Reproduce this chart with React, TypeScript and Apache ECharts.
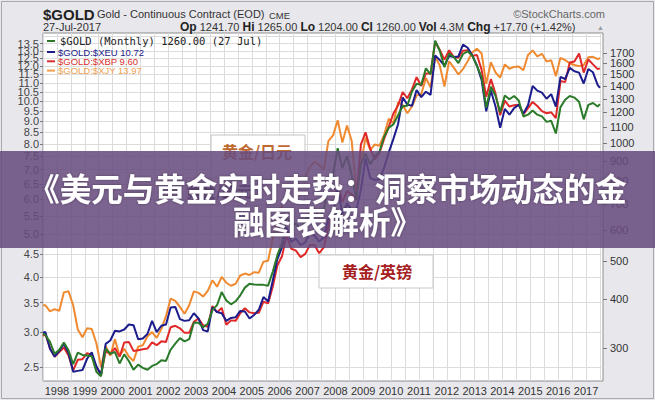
import React, { useEffect, useRef } from 'react';
import * as echarts from 'echarts';

// ---- data (bi-monthly samples) ----
const dateLabels: string[] = ['1997-07', '1997-08', '1997-10', '1997-12'];
for (let y = 1998; y <= 2016; y++) {
  for (const m of [2, 4, 6, 8, 10, 12]) dateLabels.push(`${y}-${String(m).padStart(2, '0')}`);
}
dateLabels.push('2017-02', '2017-04', '2017-06', '2017-07');

// $GOLD (USD) – right axis
const goldUsd = [
  326, 324, 311, 290,
  297, 310, 296, 273, 292, 288,
  287, 286, 261, 254, 299, 290,
  293, 274, 289, 278, 264, 272,
  267, 264, 270, 273, 279, 278,
  297, 308, 318, 312, 316, 348,
  348, 339, 346, 375, 386, 417,
  397, 388, 395, 409, 428, 438,
  436, 435, 435, 433, 470, 518,
  556, 654, 614, 624, 604, 632,
  665, 679, 650, 673, 789, 834,
  972, 865, 928, 833, 717, 884,
  942, 884, 928, 952, 1040, 1096,
  1118, 1180, 1244, 1248, 1357, 1421,
  1411, 1556, 1500, 1829, 1722, 1566,
  1697, 1663, 1604, 1692, 1719, 1675,
  1578, 1476, 1234, 1396, 1323, 1202,
  1326, 1296, 1322, 1287, 1171, 1184,
  1213, 1184, 1172, 1135, 1142, 1060,
  1238, 1292, 1321, 1309, 1277, 1152,
  1254, 1268, 1242, 1260,
];

// $GOLD:$XEU – left axis
const goldXeu = [
  2.99, 3.0, 2.75, 2.64,
  2.72, 2.82, 2.69, 2.44, 2.45, 2.46,
  2.61, 2.7, 2.51, 2.4, 2.82, 2.87,
  3.02, 3.01, 3.04, 3.12, 3.11, 2.89,
  2.9, 2.97, 3.18, 3.0, 3.1, 3.12,
  3.41, 3.42, 3.21, 3.18, 3.19, 3.31,
  3.22, 3.03, 3.01, 3.41, 3.33, 3.31,
  3.18, 3.23, 3.24, 3.35, 3.34, 3.22,
  3.28, 3.37, 3.6, 3.52, 3.92, 4.39,
  4.67, 5.19, 4.8, 4.88, 4.72, 4.79,
  5.04, 4.96, 4.81, 4.91, 5.44, 5.71,
  6.39, 5.54, 5.87, 5.67, 5.65, 6.31,
  7.42, 6.7, 6.63, 6.66, 7.07, 7.66,
  8.22, 8.87, 10.2, 9.83, 9.76, 10.6,
  10.22, 10.51, 10.34, 12.7, 12.39, 12.05,
  12.66, 12.6, 12.63, 13.43, 13.22, 12.69,
  12.05, 11.18, 9.49, 10.58, 9.73, 8.71,
  9.61, 9.32, 9.65, 9.82, 9.37, 9.79,
  10.83, 10.57, 10.46, 10.13, 10.38, 9.72,
  11.36, 11.23, 11.9, 11.69, 11.61, 10.97,
  11.83, 11.63, 10.89, 10.72,
];

// $GOLD:$XBP – plotted against right axis
const goldXbp = [
  322, 326, 300, 285,
  293, 301, 287, 263, 280, 281,
  291, 288, 268, 257, 294, 290,
  300, 285, 310, 311, 295, 296,
  298, 299, 310, 305, 312, 311,
  339, 342, 337, 328, 328, 350,
  357, 343, 340, 384, 370, 380,
  344, 353, 352, 368, 379, 370,
  368, 369, 394, 390, 430, 488,
  515, 582, 538, 532, 512, 522,
  550, 550, 524, 542, 615, 679,
  791, 708, 755, 741, 717, 994,
  1067, 968, 911, 946, 1027, 1103,
  1192, 1249, 1353, 1304, 1374, 1476,
  1402, 1509, 1509, 1818, 1733, 1637,
  1729, 1663, 1655, 1724, 1730, 1675,
  1682, 1543, 1315, 1459, 1340, 1180,
  1286, 1242, 1252, 1256, 1186, 1230,
  1276, 1246, 1209, 1194, 1201, 1160,
  1443, 1434, 1609, 1619, 1696, 1517,
  1638, 1592, 1548, 1555,
];

// $GOLD:$XJY – plotted against left axis
const goldXjy = [
  3.45, 3.45, 3.34, 3.38,
  3.35, 3.69, 3.71, 3.45, 3.04, 2.92,
  3.06, 3.05, 2.83, 2.5, 2.79, 2.65,
  2.89, 2.65, 2.75, 2.64, 2.58, 2.78,
  2.8, 2.93, 3.0, 2.91, 3.05, 3.26,
  3.57, 3.53, 3.42, 3.3, 3.45, 3.71,
  3.68, 3.61, 3.72, 3.93, 3.8, 4.0,
  3.88, 3.82, 3.86, 4.03, 4.07, 4.04,
  4.1, 4.09, 4.33, 4.35, 4.89, 5.48,
  5.78, 6.68, 6.27, 6.54, 6.33, 6.74,
  7.09, 7.3, 7.16, 7.0, 8.13, 8.37,
  9.06, 8.06, 8.81, 8.14, 6.3, 7.21,
  8.27, 7.76, 7.98, 7.93, 8.39, 9.13,
  8.92, 9.94, 9.81, 9.39, 9.73, 10.31,
  10.37, 11.29, 10.75, 12.62, 12.04, 10.8,
  12.32, 11.92, 11.5, 11.83, 12.32, 12.91,
  13.15, 12.83, 10.95, 12.26, 11.62, 11.31,
  12.12, 11.85, 11.96, 11.99, 11.75, 12.73,
  13.04, 12.63, 12.81, 12.31, 12.38, 11.4,
  12.54, 12.39, 12.19, 12.08, 12.01, 12.08,
  12.58, 12.61, 12.46, 12.53,
];

const yearLabels = [1998, 1999, 2000, 2001, 2002, 2003, 2004, 2005, 2006, 2007, 2008, 2009, 2010, 2011, 2012, 2013, 2014, 2015, 2016, 2017];
const leftTicks = [2.5, 3.0, 3.5, 4.0, 4.5, 5.0, 5.5, 6.0, 6.5, 7.0, 7.5, 8.0, 8.5, 9.0, 9.5, 10.0, 10.5, 11.0, 11.5, 12.0, 12.5, 13.0, 13.5, 14.0];
const rightTicks = [300, 400, 500, 600, 700, 800, 900, 1000, 1100, 1200, 1300, 1400, 1500, 1600, 1700, 1800];

const legendRows = [
  { text: '$GOLD:$XEU 10.72', color: '#1c1c8c' },
  { text: '$GOLD:$XBP 9.60', color: '#d83030' },
  { text: '$GOLD:$XJY 13.97', color: '#f0a050' },
];

const COLORS = { usd: '#2a7a2a', eur: '#1c1c8c', gbp: '#e02828', jpy: '#f08a30' };
const SANS = '"Liberation Sans", Arial, sans-serif';
const CJK = '"Noto Sans CJK SC", sans-serif';

const toYear = (s: string) => {
  const [y, m] = s.split('-').map(Number);
  return y + (m - 1) / 12;
};

const mkSeries = (name: string, values: number[], color: string, yAxisIndex: number) => ({
  type: 'line',
  name,
  yAxisIndex,
  data: values.map((v, i) => [toYear(dateLabels[i]), Math.log(v)]),
  showSymbol: false,
  symbol: 'none',
  silent: true,
  lineStyle: { color, width: 2 },
  itemStyle: { color },
});

const txt = (x: number, y: number, text: string, font: string, fill: string, align = 'left', z = 10, extra: any = {}) => ({
  type: 'text',
  z,
  style: { x, y, text, font, fill, align, verticalAlign: 'middle', textAlign: align, textVerticalAlign: 'middle', ...extra },
});

export default function App() {
  const ref = useRef<HTMLDivElement>(null);
  useEffect(() => {
    document.body.style.margin = '0';
    const chart = echarts.init(ref.current!, undefined, { renderer: 'svg', width: 655, height: 400 });
    const halfYears: number[] = [];
    yearLabels.forEach((y) => halfYears.push(y - 0.5, y));
    halfYears.push(2017.5);

    const graphics: any[] = [
      { type: 'rect', z: 1, shape: { x: 1.5, y: 1.5, width: 652, height: 397 }, style: { fill: 'none', stroke: '#a9a9ad', lineWidth: 1 } },
      // header
      txt(43, 14, '$GOLD', `bold 15px ${SANS}`, '#222'),
      txt(97, 14, 'Gold - Continuous Contract (EOD)', `11px ${SANS}`, '#333'),
      txt(269, 15, 'CME', `9.5px ${SANS}`, '#333'),
      txt(43, 27, '27-Jul-2017', `11px ${SANS}`, '#333'),
      {
        type: 'text', z: 10,
        style: {
          x: 180, y: 27, align: 'left', verticalAlign: 'middle', textAlign: 'left', textVerticalAlign: 'middle',
          text: '{b|Op} 1241.70 {b|Hi} 1265.00 {b|Lo} 1204.00 {b|Cl} 1260.00 {b|Vol} 4.3M {b|Chg} +17.70 (+1.42%)',
          font: `11px ${SANS}`, fill: '#333',
          rich: { b: { fontWeight: 'bold', fontSize: 12, fontFamily: SANS, fill: '#222' } },
        },
      },
      txt(604, 27, '▲', `7px ${SANS}`, '#999', 'right'),
      txt(605, 14, '©StockCharts.com', `11px ${SANS}`, '#666', 'right'),
      // legend
      { type: 'line', z: 10, shape: { x1: 47, y1: 41, x2: 55, y2: 41 }, style: { stroke: COLORS.usd, lineWidth: 2 } },
      txt(60, 41, '$GOLD (Monthly) 1260.00 (27 Jul)', `10.5px "DejaVu Sans Mono", monospace`, '#222'),
      ...legendRows.flatMap((r, i) => [
        { type: 'line', z: 10, shape: { x1: 47, y1: 52 + i * 9.3, x2: 55, y2: 52 + i * 9.3 }, style: { stroke: r.color, lineWidth: 2 } },
        txt(58, 52 + i * 9.3, r.text, `9.5px ${SANS}`, r.color),
      ]),
      // annotation boxes
      { type: 'rect', z: 20, shape: { x: 211, y: 135, width: 94, height: 70 }, style: { fill: 'rgba(255,255,255,0.93)', stroke: '#c4c4c4', lineWidth: 1 } },
      txt(257, 151, '黄金/日元', `bold 16px ${CJK}`, '#c06a32', 'center', 21),
      { type: 'rect', z: 20, shape: { x: 186, y: 178, width: 68, height: 24 }, style: { fill: 'rgba(255,255,255,0.9)', stroke: '#c4c4c4', lineWidth: 1 } },
      txt(219, 190, '黄金/美元', `bold 15px ${CJK}`, '#333', 'center', 21),
      { type: 'rect', z: 20, shape: { x: 319, y: 255, width: 114, height: 33 }, style: { fill: '#ffffff', stroke: '#c8c8c8', lineWidth: 1 } },
      txt(377, 271, '黄金/英镑', `bold 16px ${CJK}`, '#a5201f', 'center', 21),
      // overlay band + title
      { type: 'rect', z: 30, shape: { x: 0, y: 151, width: 655, height: 97 }, style: { fill: 'rgba(102,75,126,0.86)' } },
      txt(327.5, 187, '《美元与黄金实时走势：洞察市场动态的金', `bold 31.5px ${CJK}`, '#ffffff', 'center', 31, { textShadowColor: 'rgba(0,0,0,0.35)', textShadowBlur: 3 }),
      txt(327.5, 220, '融图表解析》', `bold 31.5px ${CJK}`, '#ffffff', 'center', 31, { textShadowColor: 'rgba(0,0,0,0.35)', textShadowBlur: 3 }),
    ];

    const option: any = {
      animation: false,
      backgroundColor: '#e8e8ec',
      textStyle: { fontFamily: SANS },
      grid: {
        left: 43, right: 52, top: 33, bottom: 19,
        show: true, backgroundColor: '#ffffff', borderColor: '#8c8c8c', borderWidth: 1,
        containLabel: false, outerBoundsMode: 'none',
      },
      xAxis: {
        type: 'value', min: 1997.5, max: 2017.61,
        axisLine: { show: false },
        axisTick: { show: false, customValues: halfYears },
        splitLine: { show: true, lineStyle: { color: '#dcdcdc', width: 1 } },
        axisLabel: {
          customValues: yearLabels, formatter: (v: number) => String(Math.round(v)),
          color: '#333', fontSize: 11, fontFamily: SANS, margin: 4, hideOverlap: false,
          showMinLabel: true, showMaxLabel: true,
        },
      },
      yAxis: [
        {
          type: 'value', position: 'left', min: Math.log(2.324), max: Math.log(14.276),
          axisLine: { show: false },
          axisTick: { show: true, length: 3, inside: false, customValues: leftTicks.map(Math.log), lineStyle: { color: '#777' } },
          splitLine: { show: true, lineStyle: { color: '#dcdcdc', width: 1 } },
          axisLabel: {
            customValues: leftTicks.map(Math.log), formatter: (v: number) => Math.exp(v).toFixed(1),
            color: '#444', fontSize: 11, fontFamily: SANS, margin: 4, hideOverlap: false,
          },
        },
        {
          type: 'value', position: 'right', min: Math.log(247.1), max: Math.log(1914.4),
          axisLine: { show: false },
          axisTick: { show: true, length: 4, inside: false, customValues: rightTicks.map(Math.log), lineStyle: { color: '#777' } },
          splitLine: { show: false },
          axisLabel: {
            customValues: rightTicks.map(Math.log), formatter: (v: number) => String(Math.round(Math.exp(v))),
            color: '#333', fontSize: 11, fontFamily: SANS, margin: 7, hideOverlap: false,
          },
        },
      ],
      series: [
        mkSeries('$GOLD:$XJY', goldXjy, COLORS.jpy, 0),
        mkSeries('$GOLD:$XBP', goldXbp, COLORS.gbp, 1),
        mkSeries('$GOLD:$XEU', goldXeu, COLORS.eur, 0),
        mkSeries('$GOLD', goldUsd, COLORS.usd, 1),
      ],
      graphic: { elements: graphics },
    };
    chart.setOption(option);
    return () => chart.dispose();
  }, []);
  return <div ref={ref} style={{ width: 655, height: 400, position: 'fixed', left: 0, top: 0 }} />;
}
